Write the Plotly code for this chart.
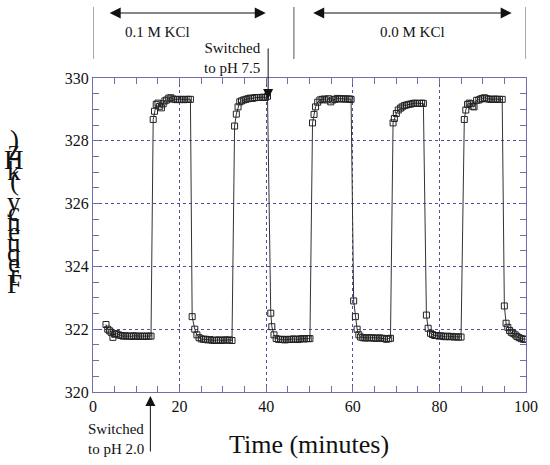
import plotly.graph_objects as go

# time (minutes) and sensor frequency (kHz)
time_min = [
    3.0, 3.4, 3.8, 4.2, 4.6, 5.0, 5.4, 5.9, 6.4, 6.9, 7.4, 7.9, 8.4, 8.9, 9.4, 9.9, 10.4, 10.9, 11.4, 11.9, 12.4, 12.9, 13.4,
    13.9, 14.2, 14.6, 15.0, 15.4, 15.8, 16.2, 16.6, 17.0, 17.5, 18.0, 18.5, 19.0, 19.5, 20.0, 20.5, 21.0, 21.5, 22.0, 22.5,
    22.9, 23.5, 24.0, 24.5, 25.0, 25.5, 26.0, 26.5, 27.0, 27.5, 28.0, 28.5, 29.0, 29.5, 30.0, 30.5, 31.0, 31.5, 32.1,
    32.7, 33.1, 33.5, 33.9, 34.3, 34.8, 35.3, 35.8, 36.3, 36.8, 37.3, 37.8, 38.3, 38.8, 39.3, 39.8, 40.3,
    41.05, 41.3, 41.8, 42.3, 42.8, 43.3, 43.8, 44.3, 44.8, 45.3, 45.8, 46.3, 46.8, 47.3, 47.8, 48.3, 48.8, 49.3, 49.7, 50.1,
    50.7, 51.05, 51.4, 51.9, 52.4, 52.9, 53.4, 53.9, 54.4, 54.9, 55.4, 55.9, 56.4, 56.9, 57.4, 57.9, 58.4, 58.9, 59.3, 59.6,
    60.2, 60.6, 61.0, 61.4, 61.8, 62.3, 62.8, 63.3, 63.8, 64.3, 64.8, 65.3, 65.8, 66.3, 66.8, 67.3, 67.8, 68.3, 68.7,
    69.3, 69.6, 70.05, 70.5, 71.0, 71.4, 71.9, 72.4, 72.9, 73.4, 73.9, 74.4, 74.9, 75.4, 75.9, 76.3,
    77.0, 77.4, 77.95, 78.4, 78.9, 79.4, 79.9, 80.4, 80.9, 81.4, 81.9, 82.4, 82.9, 83.4, 83.9, 84.4, 85.0,
    85.75, 86.1, 86.5, 86.9, 87.3, 87.7, 88.0, 88.6, 89.1, 89.5, 89.9, 90.4, 90.9, 91.4, 91.9, 92.4, 92.9, 93.4, 93.9, 94.5,
    95.0, 95.4, 95.8, 96.2, 96.6, 97.0, 97.5, 97.9, 98.4, 98.9, 99.4, 99.9,
]
freq_khz = [
    322.15, 322.00, 321.95, 321.90, 321.74, 321.84, 321.86, 321.82, 321.80, 321.78, 321.79, 321.78, 321.78, 321.77, 321.79, 321.78, 321.77, 321.78, 321.78, 321.77, 321.78, 321.78, 321.78,
    328.68, 328.94, 329.16, 329.20, 329.10, 329.05, 329.18, 329.27, 329.30, 329.36, 329.37, 329.33, 329.32, 329.31, 329.32, 329.32, 329.31, 329.32, 329.32, 329.32,
    322.40, 322.00, 321.82, 321.73, 321.69, 321.68, 321.68, 321.66, 321.67, 321.65, 321.64, 321.65, 321.66, 321.64, 321.65, 321.66, 321.65, 321.66, 321.64,
    328.47, 328.85, 329.08, 329.24, 329.27, 329.30, 329.32, 329.34, 329.36, 329.35, 329.37, 329.38, 329.38, 329.38, 329.39, 329.38, 329.42,
    322.51, 322.08, 321.82, 321.70, 321.68, 321.67, 321.68, 321.66, 321.67, 321.68, 321.67, 321.69, 321.68, 321.67, 321.69, 321.70, 321.69, 321.70, 321.70, 321.70,
    328.57, 328.84, 329.08, 329.23, 329.30, 329.32, 329.33, 329.30, 329.34, 329.24, 329.30, 329.32, 329.35, 329.34, 329.33, 329.34, 329.33, 329.33, 329.33, 329.32,
    322.90, 322.40, 322.00, 321.82, 321.75, 321.73, 321.72, 321.73, 321.72, 321.73, 321.72, 321.71, 321.72, 321.72, 321.71, 321.70, 321.68, 321.70, 321.71,
    328.57, 328.71, 328.87, 328.98, 329.04, 329.08, 329.12, 329.14, 329.16, 329.17, 329.19, 329.20, 329.19, 329.19, 329.20, 329.19,
    322.45, 322.03, 321.87, 321.83, 321.80, 321.80, 321.78, 321.79, 321.77, 321.76, 321.78, 321.76, 321.77, 321.75, 321.76, 321.75, 321.75,
    328.68, 328.98, 329.16, 329.20, 329.18, 329.10, 329.08, 329.29, 329.30, 329.33, 329.35, 329.37, 329.34, 329.33, 329.32, 329.32, 329.33, 329.32, 329.32, 329.32,
    322.74, 322.19, 322.06, 321.96, 321.90, 321.87, 321.82, 321.77, 321.73, 321.70, 321.68, 321.68,
]

x_ticks = [0, 20, 40, 60, 80, 100]
y_ticks = [320, 322, 324, 326, 328, 330]
ylabel = "Frequency (kHz)"

SERIF = "Liberation Serif, Times New Roman, serif"
FRAME = "#6f6fb0"
GRID = "#4f4fa0"
INK = "#111111"

# plot area in pixels (550x465 canvas)
L, R, T, B = 93, 17, 78, 73
W, H = 550, 465

fig = go.Figure()
fig.add_trace(go.Scatter(
    x=time_min, y=freq_khz, mode="lines+markers",
    line=dict(color="#333333", width=1),
    marker=dict(symbol="square-open", size=6, color="#222222", line=dict(width=1)),
    showlegend=False,
))

axis_common = dict(
    showline=True, linecolor=FRAME, linewidth=1, mirror="allticks",
    ticks="inside", ticklen=6, tickcolor=FRAME,
    showgrid=True, gridcolor=GRID, griddash="dot", gridwidth=1,
    zeroline=False, tickfont=dict(family=SERIF, size=16, color=INK),
)
fig.update_xaxes(range=[0, 100], tickvals=x_ticks,
                 minor=dict(dtick=5, ticks="inside", ticklen=6, tickcolor=FRAME, showgrid=False),
                 **axis_common)
fig.update_yaxes(range=[320, 330], tickvals=y_ticks,
                 minor=dict(dtick=0.5, ticks="inside", ticklen=6, tickcolor=FRAME, showgrid=False),
                 **axis_common)


def py(pix):  # pixel row -> paper y
    return (H - B - pix) / (H - T - B)


def px(pix):  # pixel column -> paper x
    return (pix - L) / (W - L - R)


def note(x, y, text, size=15, xanchor="center", align="center", xref="paper"):
    fig.add_annotation(x=x, y=y, xref=xref, yref="paper", text=text, showarrow=False,
                       xanchor=xanchor, yanchor="middle", align=align,
                       font=dict(family=SERIF, size=size, color=INK))


# brackets over the KCl phases
for xv in [0, 46.4, 100]:
    fig.add_shape(type="line", xref="x", yref="paper", x0=xv, x1=xv, y0=py(59), y1=py(7),
                  line=dict(color="#555", width=1))
for x0, x1, label, lx in [(3.5, 39.9, "0.1 M KCl", 15.0), (50.5, 96.7, "0.0 M KCl", 73.7)]:
    fig.add_annotation(x=x1, y=py(13), xref="x", yref="paper", ax=x0, ay=0, axref="x", ayref="pixel",
                       text="", showarrow=True, arrowhead=2, arrowside="end+start",
                       arrowsize=2, arrowwidth=1.1, arrowcolor=INK)
    note(lx, py(32), label, xref="x")

# pH switch markers
fig.add_annotation(x=40.45, y=py(99), xref="x", yref="paper", ax=0, ay=-52,
                   text="", showarrow=True, arrowhead=2, arrowsize=2, arrowwidth=1, arrowcolor=INK)
note(px(266), py(58), "Switched<br>to pH 7.5", xanchor="right", align="right")
fig.add_annotation(x=13.25, y=py(396), xref="x", yref="paper", ax=0, ay=57,
                   text="", showarrow=True, arrowhead=2, arrowsize=2, arrowwidth=1, arrowcolor=INK)
note(px(86), py(439), "Switched<br>to pH 2.0", xanchor="left", align="left")

note(px(312), py(444), "Time (minutes)", size=26)

# y label drawn as stacked upright glyphs, bottom to top, as in the original
for i, ch in enumerate(ylabel):
    if ch == " ":
        continue
    note(px(13), py(284 - 10.3 * i), ch, size=27)

fig.update_layout(
    width=W, height=H, margin=dict(l=L, r=R, t=T, b=B),
    plot_bgcolor="white", paper_bgcolor="white",
)
fig.write_html("out.html", config={"displayModeBar": False},
               post_script="document.body.style.margin='0';")
